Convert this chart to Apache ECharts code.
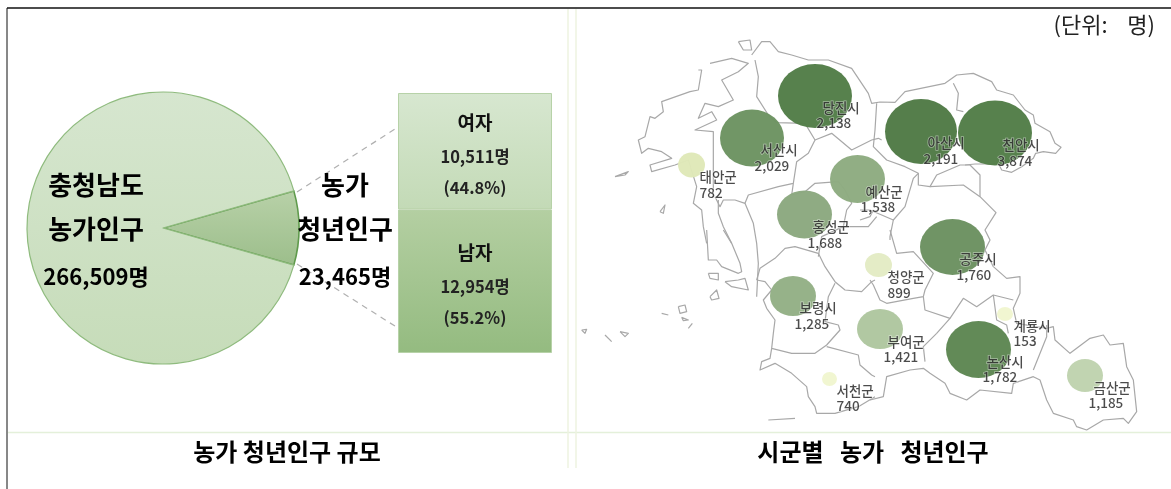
<!DOCTYPE html>
<html><head><meta charset="utf-8">
<style>html,body{margin:0;padding:0;background:#fff}#c{width:1171px;height:489px}</style>
<script src="https://cdn.jsdelivr.net/npm/echarts@6/dist/echarts.min.js"></script>
</head><body><div id="c"></div>
<script>
// ---------- data ----------
const provinceLabel = ['충청남도', '농가인구'];
const farmPopulation = 266509;
const youthLabel = ['농가', '청년인구'];
const youthPopulation = 23465;
const genderNames = ['남자', '여자'];
const genderValues = [12954, 10511];
const genderShares = ['55.2%', '44.8%'];
const unitText = '(단위:    명)';
const panelTitles = ['농가 청년인구 규모', '시군별   농가   청년인구'];
const countyNames = ['당진시','서산시','태안군','예산군','홍성군','아산시','천안시','공주시','청양군','보령시','부여군','논산시','계룡시','금산군','서천군'];
const countyValues = [2138,2029,782,1538,1688,2191,3874,1760,899,1285,1421,1782,153,1185,740];

// ---------- map placement (map-plane coordinates, styling) ----------
const bubbleAt = {당진시:[815,96],서산시:[752,138],태안군:[691.5,165],예산군:[857.5,179],홍성군:[804.5,214.5],아산시:[921,131.5],천안시:[995,133],공주시:[952.5,247],청양군:[878.5,265],보령시:[793,296],부여군:[880,329],논산시:[978.5,349.5],계룡시:[1005,314],금산군:[1085,375.5],서천군:[829.5,379]};
const bubbleSize = {당진시:[74,64],서산시:[64,57],태안군:[27,25],예산군:[55,48],홍성군:[55,48],아산시:[72,65],천안시:[74,65],공주시:[65,56],청양군:[27,24],보령시:[46,40],부여군:[46,40],논산시:[65,57],계룡시:[16,14],금산군:[36,33],서천군:[15,14]};
const bubbleColor = {당진시:'#527d47',서산시:'#6c9361',태안군:'#dfe8b8',예산군:'#8dab80',홍성군:'#8ba87f',아산시:'#4f7a45',천안시:'#527d47',공주시:'#6b9160',청양군:'#e3ebc4',보령시:'#93b085',부여군:'#aec69f',논산시:'#5d8652',계룡시:'#f1f6cf',금산군:'#bfd3ae',서천군:'#f1f6cf'};
const labelAt = {당진시:[816,115.5,6],서산시:[754,158,6],태안군:[699,185,0],예산군:[860,199.5,5],홍성군:[807,235,5],아산시:[923,151,4],천안시:[997,153,5],공주시:[956,267,3],청양군:[887,285,0],보령시:[794,316,5],부여군:[883,349.5,4],논산시:[982,369.5,4],계룡시:[1013,333.5,0],금산군:[1088,395.5,5],서천군:[836,398.5,0]};

// outlines traced in 3x crops: [originX, originY, [zx,zy,...]]
const outlineTraces = [
 [575,40,[530,45,560,5,585,5,610,35,650,45,700,60,760,60,830,85,860,130,880,160,890,190,915,186,960,187,990,155,1110,130,1145,105,1195,100,1250,125,1265,150,1315,165,1350,210,1375,225,1380,250,1425,275,1440,310,1458,322,1442,340,1405,335,1382,340,1375,355,1340,380,1310,397,1280,390,1270,370,1250,372,1200,372,1170,375]],
 [870,40,[300,375,330,405,330,470,378,518,345,570,360,600,345,630,370,680,410,715,450,710,450,760,430,805,440,850,530,865,550,860,555,900,600,940,660,895,700,885,720,915,760,910,770,980,790,1020,800,1115,775,1150,760,1135,700,1140,650,1170,620,1160,610,1140,550,1120,530,1080,510,1020,490,1010,430,1030,425,1060,330,1050,290,1080,240,1060,225,1030,180,1000,160,985,120,990,50,1010,40,1070,0,1080]],
 [870,230,[160,200,165,240,240,265,280,205,320,230,370,195,430,210]],
 [870,230,[60,0,80,70,130,65,190,130,165,180,160,200,130,205,50,220,30,210,10,165,0,150]],
 [870,230,[240,265,200,310,160,350,165,395]],
 [870,230,[370,195,380,270,410,285,415,310]],
 [870,230,[530,285,530,320,490,420]],
 [575,230,[545,150,555,115,600,85,630,55,660,50,730,70,750,110,780,155,810,180,860,185,890,155,900,150]],
 [575,230,[545,150,570,155,590,180,565,210,575,235,600,270,595,310,590,355,650,370,720,370,755,345,795,300,790,285,750,275,760,200,780,160]],
 [575,230,[590,355,585,385,560,395,555,420,600,400,650,430,695,470,700,500,720,530,725,550,780,550,850,530,900,500]],
 [575,230,[755,350,850,375,855,405,890,435,900,440]],
 [575,230,[580,570,660,565]],
 [575,230,[395,0,400,90,425,90,440,110,490,130,500,125,495,100,470,40,445,0]],
 [575,230,[450,155,490,150,510,145,520,180,470,170,450,155]],
 [575,230,[405,200,425,180,432,205,410,210,405,200]],
 [575,230,[400,130,430,130,430,150,405,145,400,130]],
 [575,230,[310,230,330,225,335,245,315,250,310,230]],
 [575,230,[320,262,340,270,325,272,320,262]],
 [575,230,[90,315,110,335]],
 [575,230,[135,305,160,310,150,320,135,305]],
 [575,230,[20,300,35,298,30,310,20,300]],
 [575,230,[260,250,280,255]],
 [575,230,[340,295,352,280]],
 [575,40,[540,60,550,110,545,170,580,225,605,248,690,250,720,300,700,340,665,365,655,430,610,440,520,465,510,490,480,480,445,480,435,500,420,470]],
 [575,40,[490,5,525,0,530,30,505,30,490,5]],
 [575,40,[405,70,470,55,520,70,490,95,440,120,475,180,430,200,390,190,370,235,410,215,425,240,360,270,415,275,415,470]],
 [575,40,[370,90,380,90,370,150,345,155,260,185,265,215,240,235,225,230,210,290,190,300,200,340,220,325,260,335,290,355,225,375,230,395,300,375,340,360,365,440,355,490,380,510,385,560,395,610]],
 [575,40,[430,480,430,520,445,560,470,610]],
 [575,40,[120,410,160,395,150,405,120,410]],
 [575,40,[255,515,270,495,265,520,255,515]],
 [575,40,[510,490,535,550,545,610,550,670,545,770]],
 [575,40,[655,430,650,465,690,455,720,430,790,425,810,450,830,490,815,510,805,560,740,590,730,650]],
 [575,40,[805,560,880,560,905,530]],
 [575,40,[720,300,770,280,830,330,890,300,910,295,920,300]],
 [870,40,[20,190,15,270,10,320,50,360,105,380,145,400,145,435,180,440,200,405,270,375,300,375]],
 [870,40,[180,440,280,435,330,470]],
 [870,40,[145,400,130,415,105,500,70,540,0,510,-30,510]],
 [870,40,[70,540,60,590,60,600]],
 [870,40,[250,130,265,160,260,210,280,215]],
 [870,40,[-30,540,0,530,10,510]]
];
function tracedPaths(){
  return outlineTraces.map(t=>{
    const pts=[];for(let i=0;i<t[2].length;i+=2)pts.push([t[0]+t[2][i]/3,t[1]+t[2][i+1]/3]);
    return {coords:pts};
  });
}
const FONT='"Noto Sans CJK KR","Noto Sans",sans-serif';
const share = youthPopulation/farmPopulation;
const halfAngle = share*360/2;
const pieCenter=[163,228], pieRadius=136;

const chart = echarts.init(document.getElementById('c'),null,{renderer:'canvas'});
const grad=(a,b)=>new echarts.graphic.LinearGradient(0,0,0,1,[{offset:0,color:a},{offset:1,color:b}]);
const barColors=[grad('#b4cfa2','#94bb80'),grad('#d7e7d0','#c3dab6')];
const blk=(t,x,y,size)=>({type:'text',x,y,z:20,style:{text:t,fill:'#000',font:'bold '+size+'px '+FONT,textAlign:'center',textVerticalAlign:'middle'}});
const ruleLine=(x1,y1,x2,y2,c,w)=>({type:'line',z:20,shape:{x1,y1,x2,y2},style:{stroke:c,lineWidth:w},silent:true});
const countyStyle={fontSize:13.5,fontFamily:FONT,fontWeight:500,color:'#1e1e1e',lineHeight:15.5,textBorderColor:'rgba(255,255,255,.55)',textBorderWidth:1.5};

chart.setOption({
  animation:false,
  backgroundColor:'#fff',
  grid:[
    {left:398,top:93,width:154,height:260},
    {left:0,top:0,width:1171,height:489}
  ],
  xAxis:[
    {gridIndex:0,type:'category',data:['농가 청년인구'],show:false},
    {gridIndex:1,type:'value',min:0,max:1171,show:false}
  ],
  yAxis:[
    {gridIndex:0,type:'value',min:0,max:youthPopulation,show:false},
    {gridIndex:1,type:'value',min:0,max:489,inverse:true,show:false}
  ],
  series:[
    {type:'pie',center:pieCenter,radius:[0,pieRadius],startAngle:halfAngle,clockwise:true,silent:true,label:{show:false},labelLine:{show:false},
     data:[
      {name:youthLabel.join(' '),value:youthPopulation,itemStyle:{color:grad('#b8d1a8','#9cbe8b'),borderColor:'#5f9a4c',borderWidth:1.6}},
      {name:provinceLabel.join(' '),value:farmPopulation-youthPopulation,itemStyle:{color:grad('#d6e6cf','#c6dcb9'),borderColor:'#8fbb7e',borderWidth:1.2}}
     ]},
    ...genderNames.map((n,i)=>({
      type:'bar',name:n,stack:'g',xAxisIndex:0,yAxisIndex:0,barWidth:'100%',silent:true,
      data:[genderValues[i]],
      itemStyle:{color:barColors[i],borderColor:'#b7d2a8',borderWidth:1},
      label:{show:true,position:'inside',offset:[0,3],formatter:()=>`{h|${n}}\n{v|${genderValues[i].toLocaleString('en-US')}명}\n{v|(${genderShares[i]})}`,
        rich:{h:{fontSize:19,fontWeight:'bold',fontFamily:FONT,color:'#111',lineHeight:37},v:{fontSize:16.5,fontWeight:'bold',fontFamily:FONT,color:'#222',lineHeight:31}}}
    })),
    {type:'lines',coordinateSystem:'cartesian2d',xAxisIndex:1,yAxisIndex:1,polyline:true,silent:true,z:1,
     lineStyle:{color:'#a8a8a8',width:1.2,opacity:1,join:'round'},data:tracedPaths()},
    {type:'scatter',name:'시군별',xAxisIndex:1,yAxisIndex:1,z:3,silent:true,
     data:countyNames.map((n,i)=>({name:n,value:[bubbleAt[n][0],bubbleAt[n][1],countyValues[i]],symbolSize:bubbleSize[n],itemStyle:{color:bubbleColor[n],opacity:0.97}}))},
    {type:'scatter',name:'라벨',xAxisIndex:1,yAxisIndex:1,z:4,silent:true,symbolSize:1,itemStyle:{color:'rgba(0,0,0,0)'},
     data:countyNames.map((n,i)=>({name:n,value:[labelAt[n][0],labelAt[n][1],countyValues[i]],
       label:{show:true,position:'right',distance:0,align:'left',verticalAlign:'middle',
        formatter:`{n${labelAt[n][2]}|${n}}\n{v|${countyValues[i].toLocaleString('en-US')}}`,
        rich:{v:countyStyle,['n'+labelAt[n][2]]:Object.assign({},countyStyle,{padding:[0,0,0,labelAt[n][2]]})}
       }}))}
  ],
  graphic:[
    ruleLine(7,8,1171,8,'#111',1.5),
    ruleLine(7,8,7,489,'#111',1),
    ruleLine(8,432.5,1171,432.5,'#e4f0da',1.5),
    ruleLine(568,9,568,468,'#eef3e0',1.5),
    ruleLine(576,9,576,468,'#eef3e0',1.5),
    {type:'line',z:2,shape:{x1:297,y1:192,x2:398,y2:127},style:{stroke:'#b0b0b0',lineWidth:1.2,lineDash:[6,5]}},
    {type:'line',z:2,shape:{x1:297,y1:264,x2:398,y2:328},style:{stroke:'#b0b0b0',lineWidth:1.2,lineDash:[6,5]}},
    blk(provinceLabel[0],96,185,26),
    blk(provinceLabel[1],96,229,26),
    blk(farmPopulation.toLocaleString('en-US')+'명',96,277,22),
    blk(youthLabel[0],345,185,26),
    blk(youthLabel[1],345,229,26),
    blk(youthPopulation.toLocaleString('en-US')+'명',345,277,22),
    blk(panelTitles[0],287,452,24),
    blk(panelTitles[1],873,452,24),
    {type:'text',x:1155,y:25,z:20,style:{text:unitText,fill:'#222',font:'22px '+FONT,textAlign:'right',textVerticalAlign:'middle'}}
  ]
});
</script></body></html>
